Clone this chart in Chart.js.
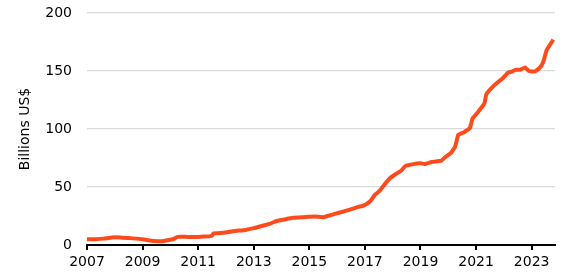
<!DOCTYPE html>
<html>
<head>
<meta charset="utf-8">
<script src="https://cdn.jsdelivr.net/npm/chart.js@4"></script>
<style>
  html, body { margin: 0; padding: 0; background: #fff; }
  #wrap { width: 582px; height: 277px; }
</style>
</head>
<body>
<div id="wrap"><canvas id="chart" width="582" height="277"></canvas></div>
<script>
// observation dates (fractional years) and values, billions US$
const dates = [
  2007.0, 2007.3, 2007.6, 2007.9, 2008.2, 2008.5, 2008.8, 2009.1, 2009.4, 2009.7,
  2010.0, 2010.15, 2010.25, 2010.6, 2011.0, 2011.4, 2011.5, 2011.55, 2011.9, 2012.3,
  2012.7, 2013.0, 2013.3, 2013.6, 2013.8, 2014.1, 2014.4, 2014.8, 2015.2, 2015.5,
  2015.8, 2016.1, 2016.4, 2016.7, 2016.95, 2017.2, 2017.35, 2017.5, 2017.7, 2017.9,
  2018.1, 2018.3, 2018.45, 2018.7, 2019.0, 2019.15, 2019.4, 2019.75, 2019.9, 2020.1,
  2020.25, 2020.36, 2020.55, 2020.78, 2020.87, 2021.05, 2021.3, 2021.37, 2021.67, 2021.97,
  2022.15, 2022.3, 2022.4, 2022.58, 2022.76, 2022.9, 2023.12, 2023.3, 2023.42, 2023.54,
  2023.78
];
const values = [
  5, 5, 5.5, 6.5, 6.5, 6, 5.5, 4.5, 3.5, 3.2,
  4.5, 5.5, 7, 7, 7, 7.5, 8, 10, 10.5, 12,
  13, 14.5, 16.5, 18.5, 20.5, 22, 23.5, 24, 24.5, 24,
  26, 28, 30, 32.5, 34, 38, 43, 46, 52, 57.5,
  61, 64, 68, 69.5, 70.5, 69.8, 71.5, 72.7, 76, 79.5,
  85, 95, 97, 101, 109, 114, 122, 130, 138, 144,
  148.6, 149.5, 151, 151, 153, 150, 149.5, 153, 158, 168,
  177
];
const xTicks = [2007, 2009, 2011, 2013, 2015, 2017, 2019, 2021, 2023];
const yTicks = [0, 50, 100, 150, 200];
const yTitle = "Billions US$";

const font = { family: "'DejaVu Sans', Verdana, sans-serif", size: 14 };

new Chart(document.getElementById("chart"), {
  type: "line",
  data: {
    datasets: [{
      data: dates.map((d, i) => ({ x: d, y: values[i] })),
      borderColor: "#ff4a1c",
      borderWidth: 4,
      pointRadius: 0,
      tension: 0.1,
      fill: false
    }]
  },
  options: {
    responsive: false,
    animation: false,
    layout: { padding: { top: 13, right: 27, left: 0, bottom: 0 } },
    plugins: { legend: { display: false }, tooltip: { enabled: false } },
    scales: {
      x: {
        type: "linear",
        min: 2007,
        max: 2023.84,
        afterBuildTicks: s => { s.ticks = xTicks.map(v => ({ value: v })); },
        afterFit: s => { s.height = 32; s.paddingLeft = 0; s.paddingRight = 0; },
        ticks: { color: "#000", font: font, padding: 4, maxRotation: 0, callback: v => String(v) },
        grid: { drawOnChartArea: false, drawTicks: true, tickLength: 5, color: "#000", lineWidth: 2 },
        border: { display: true, color: "#000", width: 2 }
      },
      y: {
        min: 0,
        max: 200,
        afterBuildTicks: s => { s.ticks = yTicks.map(v => ({ value: v })); },
        afterFit: s => { s.width = 87; s.paddingTop = 0; s.paddingBottom = 0; },
        ticks: { color: "#000", font: font, padding: 15 },
        grid: { color: "#d9d9de", lineWidth: 1.2, drawTicks: false },
        border: { display: false },
        title: { display: true, text: yTitle, color: "#000", font: { family: font.family, size: 14 }, padding: { top: 17, bottom: 0 } }
      }
    }
  }
});
</script>
</body>
</html>
